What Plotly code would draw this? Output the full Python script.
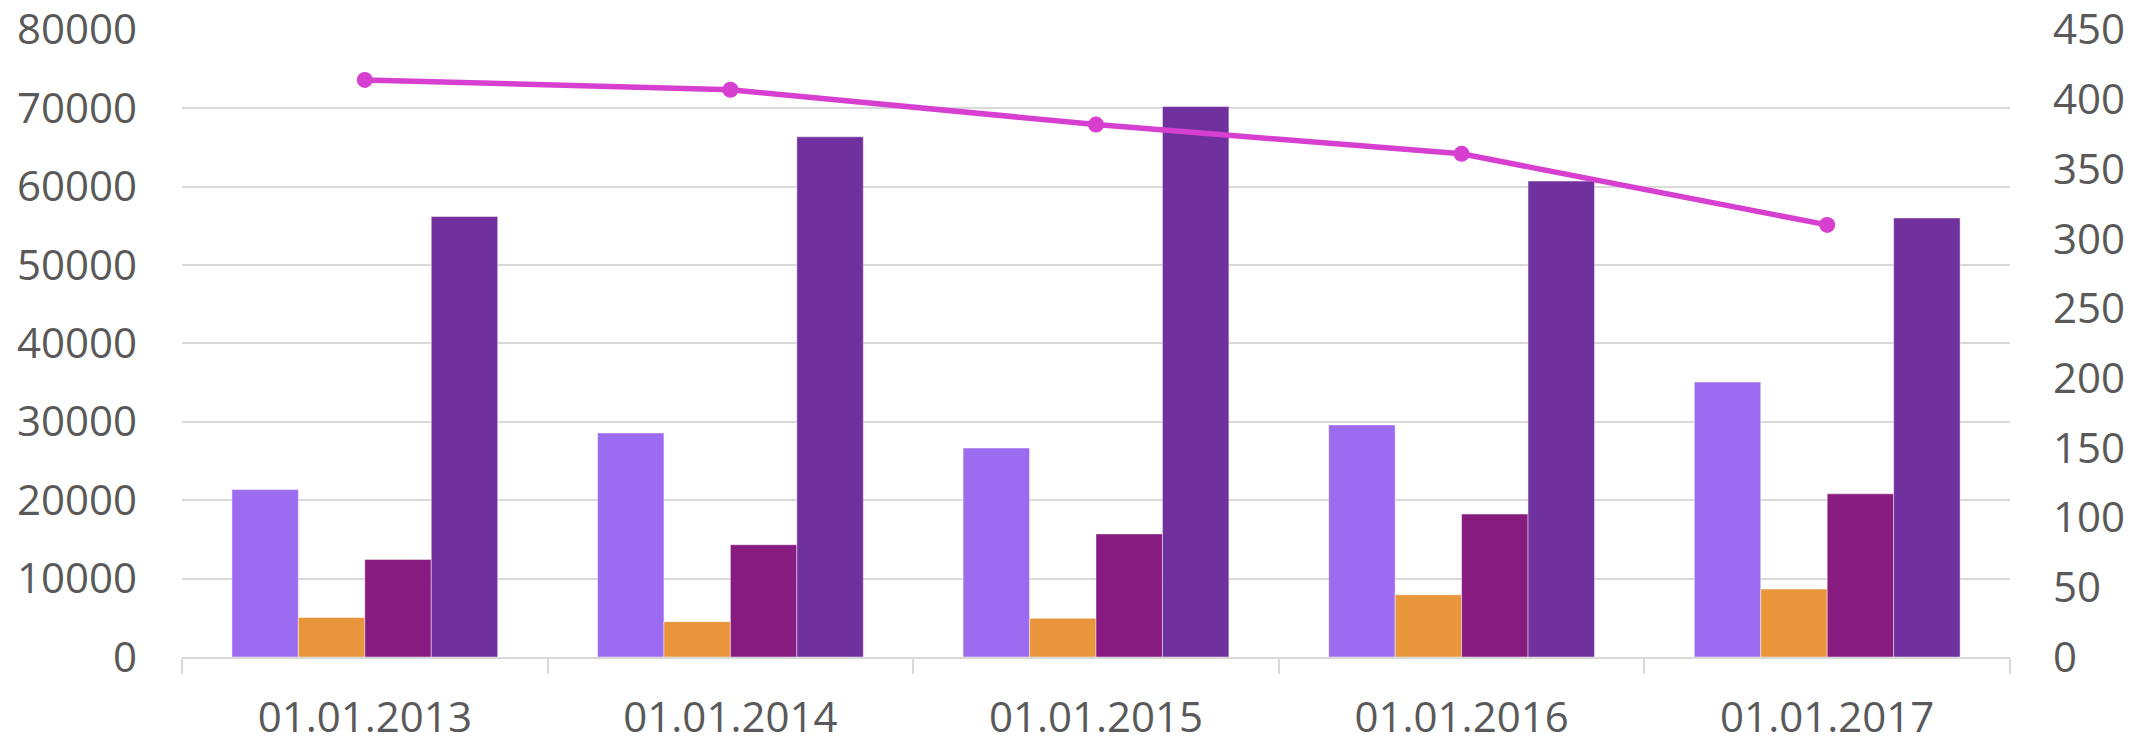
import plotly.graph_objects as go

categories = ["01.01.2013", "01.01.2014", "01.01.2015", "01.01.2016", "01.01.2017"]
series_a = [21350, 28570, 26650, 29600, 35070]   # light violet
series_b = [5050, 4510, 4930, 7940, 8660]        # orange
series_c = [12450, 14320, 15700, 18230, 20810]   # magenta
series_d = [56180, 66350, 70200, 60700, 56000]   # purple
line_vals = [414, 407, 382, 361, 310]            # right axis

bar_colors = ["#9c6cf0", "#e8953c", "#881b80", "#70309e"]
line_color = "#d63fd0"
font_color = "#595959"
grid_color = "#d9d9d9"
FS = 42

fig = go.Figure()
for vals, col in zip([series_a, series_b, series_c, series_d], bar_colors):
    fig.add_trace(go.Bar(
        x=categories, y=vals,
        marker=dict(color=col, line=dict(color="rgba(255,255,255,0.45)", width=1)),
        yaxis="y",
    ))

fig.add_trace(go.Scatter(
    x=categories, y=line_vals, mode="lines+markers",
    line=dict(color=line_color, width=5.5),
    marker=dict(color=line_color, size=16),
    yaxis="y2",
))

fig.update_layout(
    width=2134, height=739,
    margin=dict(l=174, r=132, t=21, b=90, autoexpand=False),
    paper_bgcolor="white", plot_bgcolor="rgba(0,0,0,0)",
    showlegend=False,
    barmode="group", bargap=0.273, bargroupgap=0,
    font=dict(family="Open Sans", color=font_color, size=FS),
    xaxis=dict(
        type="category", automargin=False,
        showgrid=False,
        showline=True, linecolor=grid_color, linewidth=2,
        ticks="outside", tickson="boundaries", ticklen=15, tickcolor=grid_color, tickwidth=2,
        tickfont=dict(size=FS, color=font_color),
        ticklabelstandoff=23, ticklabeloverflow="allow",
    ),
    yaxis=dict(
        range=[0, 80100], dtick=10000, tick0=0, tickformat="d", automargin=False,
        showgrid=True, gridcolor=grid_color, gridwidth=2,
        zeroline=False, showline=False,
        tickfont=dict(size=FS, color=font_color),
        ticklabelstandoff=44, ticklabeloverflow="allow",
    ),
    yaxis2=dict(
        range=[0, 450.5625], dtick=50, tick0=0, tickformat="d", automargin=False,
        overlaying="y", side="right",
        showgrid=False, zeroline=False, showline=False,
        tickfont=dict(size=FS, color=font_color),
        ticklabelstandoff=42, ticklabeloverflow="allow",
    ),
)

fig.write_html("out.html")
